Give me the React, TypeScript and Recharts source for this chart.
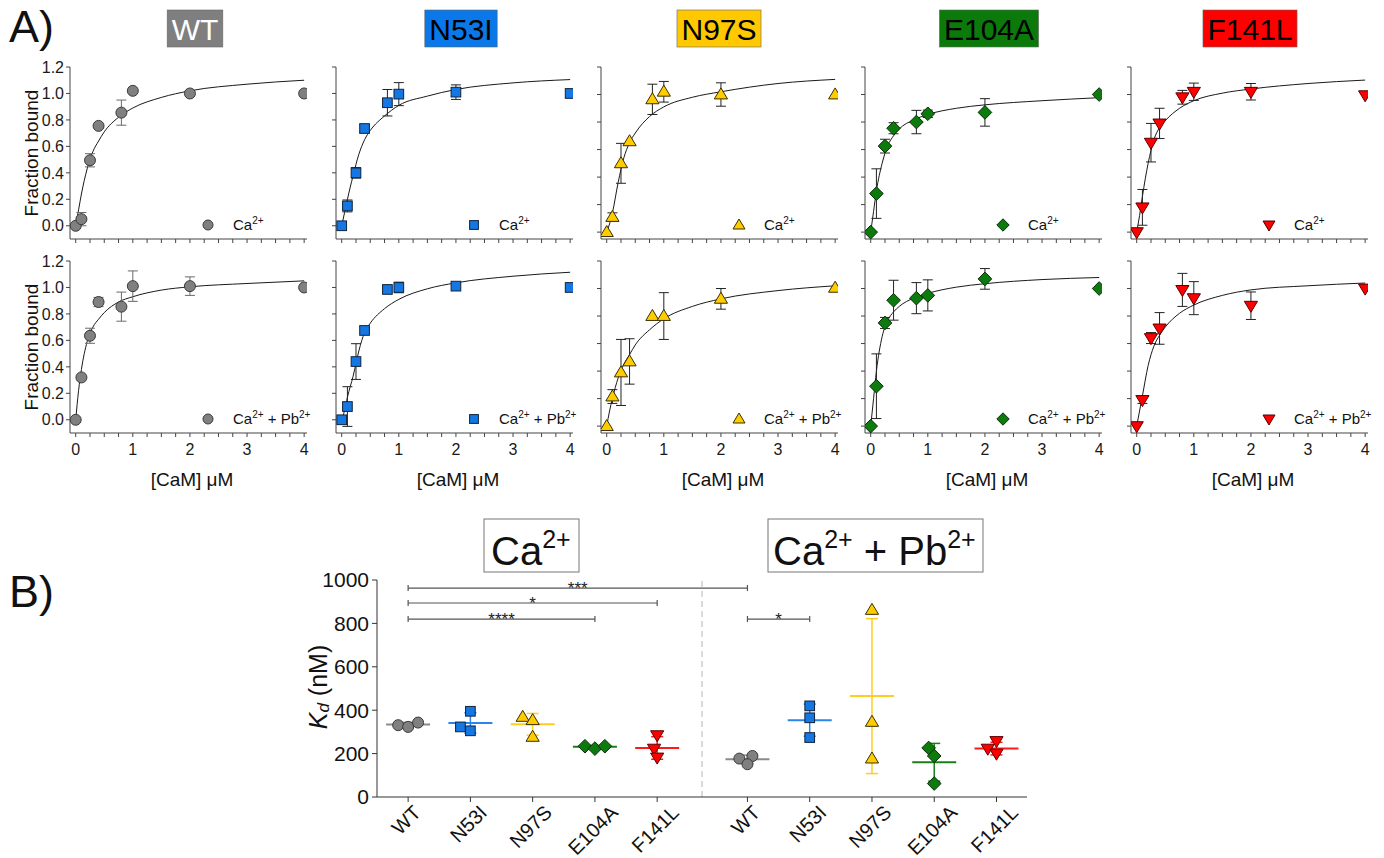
import React from 'react';
import { ComposedChart, Scatter, Line, XAxis, YAxis, ErrorBar, ReferenceLine } from 'recharts';

const FONT = '"Liberation Sans", Arial, Helvetica, sans-serif';

// ---------------- Panel A data ----------------
const concentrations = [0, 0.1, 0.25, 0.4, 0.8, 1, 2, 4];
const fitX = [0, 0.05, 0.1, 0.2, 0.3, 0.4, 0.5, 0.75, 1, 1.5, 2, 3, 4];
const variants = ['WT', 'N53I', 'N97S', 'E104A', 'F141L'];
const xTickValues = [0, 0.25, 0.5, 0.75, 1, 1.25, 1.5, 1.75, 2, 2.25, 2.5, 2.75, 3, 3.25, 3.5, 3.75, 4];
const yTickValues = [0, 0.2, 0.4, 0.6, 0.8, 1.0, 1.2];

// Ca2+ (top row)
const wtCa = [0, 0.05, 0.495, 0.755, 0.855, 1.02, 1.0, 1.0];
const wtCaErr = [0, 0.05, 0.05, 0, 0.095, 0, 0.02, 0];
const wtCaFit = [0, 0.12, 0.24, 0.43, 0.56, 0.64, 0.71, 0.82, 0.89, 0.97, 1.02, 1.07, 1.1];

const n53iCa = [0, 0.15, 0.4, 0.735, 0.93, 0.995, 1.01, 1.0];
const n53iCaErr = [0, 0.045, 0.04, 0.025, 0.1, 0.087, 0.055, 0];
const n53iCaFit = [0, 0.1, 0.2, 0.38, 0.54, 0.65, 0.72, 0.83, 0.91, 0.98, 1.03, 1.08, 1.105];

const n97sCa = [0, 0.11, 0.5, 0.66, 0.965, 1.02, 1.0, 1.0];
const n97sCaErr = [0, 0.03, 0.145, 0, 0.11, 0.075, 0.085, 0];
const n97sCaFit = [0, 0.06, 0.14, 0.36, 0.54, 0.65, 0.72, 0.84, 0.91, 0.98, 1.02, 1.08, 1.11];

const e104aCa = [0, 0.28, 0.625, 0.755, 0.8, 0.86, 0.87, 1.0];
const e104aCaErr = [0, 0.18, 0.05, 0.04, 0.085, 0.027, 0.1, 0];
const e104aCaFit = [0, 0.15, 0.3, 0.5, 0.63, 0.7, 0.75, 0.815, 0.855, 0.9, 0.925, 0.955, 0.977];

const f141lCa = [0, 0.18, 0.65, 0.79, 0.98, 1.02, 1.02, 0.995];
const f141lCaErr = [0, 0.13, 0.14, 0.11, 0.05, 0.063, 0.06, 0];
const f141lCaFit = [0, 0.12, 0.26, 0.5, 0.67, 0.76, 0.81, 0.9, 0.955, 1.01, 1.04, 1.08, 1.105];

// Ca2+ + Pb2+ (bottom row)
const wtCaPb = [0, 0.32, 0.635, 0.89, 0.855, 1.01, 1.01, 1.0];
const wtCaPbErr = [0, 0, 0.057, 0.035, 0.11, 0.115, 0.07, 0];
const wtCaPbFit = [0, 0.22, 0.38, 0.59, 0.7, 0.76, 0.81, 0.89, 0.93, 0.98, 1.005, 1.03, 1.05];

const n53iCaPb = [0, 0.1, 0.44, 0.675, 0.985, 1.0, 1.01, 1.0];
const n53iCaPbErr = [0, 0.15, 0.135, 0, 0, 0.04, 0, 0];
const n53iCaPbFit = [0, 0.07, 0.17, 0.33, 0.52, 0.66, 0.73, 0.84, 0.91, 0.99, 1.035, 1.085, 1.115];

const n97sCaPb = [0, 0.215, 0.39, 0.47, 0.8, 0.8, 0.925, 1.005];
const n97sCaPbErr = [0, 0.05, 0.24, 0.165, 0, 0.17, 0.075, 0];
const n97sCaPbFit = [0, 0.11, 0.2, 0.35, 0.45, 0.52, 0.59, 0.7, 0.78, 0.87, 0.925, 0.985, 1.02];

const e104aCaPb = [0, 0.29, 0.75, 0.915, 0.93, 0.95, 1.07, 1.0];
const e104aCaPbErr = [0, 0.235, 0.04, 0.145, 0.113, 0.113, 0.075, 0];
const e104aCaPbFit = [0, 0.2, 0.4, 0.65, 0.77, 0.83, 0.87, 0.93, 0.965, 1.01, 1.035, 1.065, 1.08];

const f141lCaPb = [0, 0.19, 0.64, 0.71, 0.99, 0.93, 0.875, 1.0];
const f141lCaPbErr = [0, 0.025, 0.04, 0.115, 0.12, 0.12, 0.1, 0];
const f141lCaPbFit = [0, 0.11, 0.22, 0.44, 0.58, 0.66, 0.72, 0.82, 0.88, 0.95, 0.99, 1.02, 1.04];

// ---------------- Panel B data ----------------
const kdCa = [
  [331, 323, 343],
  [323, 395, 305],
  [369, 354, 277],
  [234, 223, 234],
  [285, 223, 182],
];
const kdCaPb = [
  [177, 189, 151],
  [420, 365, 274],
  [862, 346, 177],
  [226, 189, 62],
  [223, 258, 200],
];
const kdCaMean = [334, 341, 335, 231, 226];
const kdCaSd = [10, 47, 50, 6, 52];
const kdCaPbMean = [174, 354, 465, 160, 223];
const kdCaPbSd = [19, 74, 357, 87, 29];
const kdTicks = [0, 200, 400, 600, 800, 1000];
const sigFrom = [0, 0, 0, 5];
const sigTo = [5, 4, 3, 6];
const sigY = [963, 894, 820, 820];
const sigLabels = ['***', '*', '****', '*'];

// ---------------- layout / style (not data) ----------------
const colZero = [76, 342, 607, 871, 1137];
const rowTop = [67, 261];
const rowLegendY = [225, 419];
const plotW = 237;
const plotH = 172;
const titleCenters = [195, 461, 719, 989, 1250];
const swarmCa = [[-0.16, 0, 0.16], [-0.16, 0, 0], [-0.16, 0, 0], [-0.16, 0, 0.16], [0, -0.05, 0]];
const swarmCaPb = [[-0.13, 0.08, 0], [0, 0, 0], [0, 0, 0], [-0.09, 0, 0], [-0.14, 0, 0]];
const pbShift = 5.45;
const dividerX = 4.72;

const styles = [
  { shape: 'circle', fill: '#808080', stroke: '#3a3a3a', bar: '#6a6a6a', title: '#7f7f7f', titleText: '#ffffff', mean: '#8a8a8a' },
  { shape: 'square', fill: '#1577e3', stroke: '#10233d', bar: '#222', title: '#0a78e8', titleText: '#000', mean: '#2a86ee' },
  { shape: 'triangle', fill: '#ffcc00', stroke: '#3a3000', bar: '#222', title: '#ffc800', titleText: '#000', mean: '#ffcc22' },
  { shape: 'diamond', fill: '#0c7a0c', stroke: '#062e06', bar: '#222', title: '#0b7a0b', titleText: '#000', mean: '#1a7f1a' },
  { shape: 'down', fill: '#ff0000', stroke: '#5a0000', bar: '#222', title: '#ff0000', titleText: '#000', mean: '#ff1a1a' },
];

const CW: Record<string, number> = {
  W: 0.944, T: 0.611, N: 0.722, '5': 0.556, '3': 0.556, I: 0.278, '9': 0.556, '7': 0.556,
  S: 0.667, E: 0.667, '1': 0.556, '0': 0.556, '4': 0.556, A: 0.667, F: 0.611, L: 0.556,
};
const textW = (s: string, fs: number) => s.split('').reduce((a, c) => a + (CW[c] ?? 0.6), 0) * fs;

function Marker({ kind, cx, cy, fill, stroke, s = 11 }: any) {
  if (cx == null || cy == null || isNaN(cx) || isNaN(cy)) return null;
  if (kind === 'circle') return <circle cx={cx} cy={cy} r={s / 2} fill={fill} stroke={stroke} strokeWidth={1} />;
  if (kind === 'square') {
    const a = s * 0.88;
    return <rect x={cx - a / 2} y={cy - a / 2} width={a} height={a} fill={fill} stroke={stroke} strokeWidth={1} />;
  }
  if (kind === 'triangle') {
    const p = `${cx},${cy - s * 0.6} ${cx + s * 0.6},${cy + s * 0.4} ${cx - s * 0.6},${cy + s * 0.4}`;
    return <polygon points={p} fill={fill} stroke={stroke} strokeWidth={1} />;
  }
  if (kind === 'down') {
    const p = `${cx - s * 0.6},${cy - s * 0.4} ${cx + s * 0.6},${cy - s * 0.4} ${cx},${cy + s * 0.6}`;
    return <polygon points={p} fill={fill} stroke={stroke} strokeWidth={1} />;
  }
  const r = s * 0.62;
  const p = `${cx},${cy - r} ${cx + r},${cy} ${cx},${cy + r} ${cx - r},${cy}`;
  return <polygon points={p} fill={fill} stroke={stroke} strokeWidth={1} />;
}

const panelRows = [
  [
    { y: wtCa, e: wtCaErr, fit: wtCaFit },
    { y: n53iCa, e: n53iCaErr, fit: n53iCaFit },
    { y: n97sCa, e: n97sCaErr, fit: n97sCaFit },
    { y: e104aCa, e: e104aCaErr, fit: e104aCaFit },
    { y: f141lCa, e: f141lCaErr, fit: f141lCaFit },
  ],
  [
    { y: wtCaPb, e: wtCaPbErr, fit: wtCaPbFit },
    { y: n53iCaPb, e: n53iCaPbErr, fit: n53iCaPbFit },
    { y: n97sCaPb, e: n97sCaPbErr, fit: n97sCaPbFit },
    { y: e104aCaPb, e: e104aCaPbErr, fit: e104aCaPbFit },
    { y: f141lCaPb, e: f141lCaPbErr, fit: f141lCaPbFit },
  ],
];

const tickStyle = { fontSize: 16, fill: '#1a1a1a', fontFamily: FONT };

function BindingPanel({ row, col }: { row: number; col: number }) {
  const d = panelRows[row][col];
  const st = styles[col];
  const pts = concentrations.map((x, i) => ({ x, y: d.y[i], e: d.e[i] }));
  const fit = fitX.map((x, i) => ({ x, y: d.fit[i] }));
  const yMin = col < 2 ? -0.1 : -0.05;
  const xH = row === 0 ? 20 : 40;
  const left = colZero[col] - 5.7 - 60;
  const top = rowTop[row] - 10;
  return (
    <div style={{ position: 'absolute', left, top }}>
      <ComposedChart width={60 + plotW + 15} height={10 + plotH + xH} margin={{ top: 10, right: 15, bottom: 0, left: 0 }}>
        <XAxis
          type="number"
          dataKey="x"
          domain={[-0.1, 4.05]}
          allowDataOverflow
          ticks={xTickValues}
          interval={0}
          tickSize={4}
          tickMargin={7}
          height={xH}
          stroke="#444"
          tick={tickStyle}
          tickFormatter={(v: number) => (row === 1 && Number.isInteger(v) ? String(v) : '')}
        />
        <YAxis
          type="number"
          domain={[yMin, 1.2]}
          allowDataOverflow
          ticks={yTickValues}
          interval={0}
          width={60}
          tickSize={4}
          tickMargin={2}
          stroke="#444"
          tick={tickStyle}
          tickFormatter={(v: number) => (col === 0 ? v.toFixed(1) : '')}
        />
        <Line data={fit} dataKey="y" type="monotone" dot={false} activeDot={false} stroke="#1a1a1a" strokeWidth={1} isAnimationActive={false} />
        <Scatter
          data={pts}
          dataKey="y"
          isAnimationActive={false}
          shape={(p: any) => <Marker kind={st.shape} cx={p.cx} cy={p.cy} fill={st.fill} stroke={st.stroke} />}
        >
          <ErrorBar dataKey="e" direction="y" width={5} stroke={st.bar} strokeWidth={1} />
        </Scatter>
      </ComposedChart>
    </div>
  );
}

const catPositions = [0, 1, 2, 3, 4, pbShift, pbShift + 1, pbShift + 2, pbShift + 3, pbShift + 4];

function CatTick(props: any) {
  const { x, y, payload } = props;
  const idx = catPositions.findIndex((p) => Math.abs(p - payload.value) < 1e-6);
  const label = variants[idx % 5];
  const fs = 20;
  const w = textW(label, fs);
  const h = 14;
  const cx = x - 2;
  const cy = y + (w + h) * 0.3536;
  return (
    <text x={cx} y={cy} textAnchor="middle" dominantBaseline="central" fontSize={fs} fill="#111" fontFamily={FONT} transform={`rotate(-45 ${cx} ${cy})`}>
      {label}
    </text>
  );
}

function KdPanel() {
  const plotL = 377, plotT = 580, bW = 650, bH = 217;
  const ml = 80, mt = 20, mr = 20;
  const H = 858 - (plotT - mt);
  const xH = H - mt - bH;
  const capNm = 14;
  return (
    <div style={{ position: 'absolute', left: plotL - ml, top: plotT - mt }}>
      <ComposedChart width={ml + bW + mr} height={H} margin={{ top: mt, right: mr, bottom: 0, left: 0 }}>
        <XAxis
          type="number"
          dataKey="x"
          domain={[-0.5, 9.94]}
          allowDataOverflow
          ticks={catPositions}
          interval={0}
          tickSize={5}
          tickMargin={2}
          height={xH}
          stroke="#333"
          tick={<CatTick />}
        />
        <YAxis
          type="number"
          domain={[0, 1000]}
          allowDataOverflow
          ticks={kdTicks}
          interval={0}
          width={ml}
          tickSize={5}
          tickMargin={3}
          stroke="#333"
          tick={{ fontSize: 21, fill: '#111', fontFamily: FONT }}
        />
        <ReferenceLine x={dividerX} stroke="#b5b5b5" strokeDasharray="6 4" strokeWidth={1} />
        {sigFrom.map((f, i) => {
          const x1 = catPositions[f];
          const x2 = catPositions[sigTo[i]];
          const yv = sigY[i];
          return (
            <React.Fragment key={'sig' + i}>
              <ReferenceLine
                segment={[{ x: x1, y: yv }, { x: x2, y: yv }]}
                stroke="#555"
                strokeWidth={1.2}
                label={{ value: sigLabels[i], position: 'center', fontSize: 17, fill: '#222', fontFamily: FONT }}
              />
              <ReferenceLine segment={[{ x: x1, y: yv - capNm }, { x: x1, y: yv + capNm }]} stroke="#555" strokeWidth={1.2} />
              <ReferenceLine segment={[{ x: x2, y: yv - capNm }, { x: x2, y: yv + capNm }]} stroke="#555" strokeWidth={1.2} />
            </React.Fragment>
          );
        })}
        {variants.map((v, vi) => {
          const st = styles[vi];
          const data = [
            { x: catPositions[vi], y: kdCaMean[vi], e: kdCaSd[vi] },
            { x: catPositions[vi + 5], y: kdCaPbMean[vi], e: kdCaPbSd[vi] },
          ];
          return (
            <Scatter
              key={'mean' + v}
              data={data}
              dataKey="y"
              isAnimationActive={false}
              shape={(p: any) =>
                p.cx == null ? null : (
                  <line x1={p.cx - 22} x2={p.cx + 22} y1={p.cy} y2={p.cy} stroke={st.mean} strokeWidth={2} />
                )
              }
            >
              <ErrorBar dataKey="e" direction="y" width={6} stroke={st.mean} strokeWidth={1.5} />
            </Scatter>
          );
        })}
        {variants.map((v, vi) => {
          const st = styles[vi];
          const data = [
            ...kdCa[vi].map((y, j) => ({ x: catPositions[vi] + swarmCa[vi][j], y })),
            ...kdCaPb[vi].map((y, j) => ({ x: catPositions[vi + 5] + swarmCaPb[vi][j], y })),
          ];
          return (
            <Scatter
              key={'pts' + v}
              data={data}
              dataKey="y"
              isAnimationActive={false}
              shape={(p: any) => <Marker kind={st.shape} cx={p.cx} cy={p.cy} fill={st.fill} stroke={st.stroke} s={11} />}
            />
          );
        })}
      </ComposedChart>
    </div>
  );
}

function Overlay() {
  const supDy = -6;
  return (
    <svg width={1384} height={858} style={{ position: 'absolute', left: 0, top: 0, pointerEvents: 'none' }} fontFamily={FONT}>
      <text x={9} y={42} fontSize={45} fill="#111">A)</text>
      <text x={9} y={607} fontSize={45} fill="#111">B)</text>
      {variants.map((v, i) => {
        const fs = 30;
        const w = textW(v, fs) + 9;
        const cx = titleCenters[i];
        return (
          <g key={'t' + v}>
            <rect x={cx - w / 2} y={10} width={w} height={37} fill={styles[i].title} stroke="#666" strokeWidth={0.6} />
            <text x={cx} y={39.5} fontSize={fs} textAnchor="middle" fill={styles[i].titleText}>{v}</text>
          </g>
        );
      })}
      {[0, 1].map((r) =>
        variants.map((v, i) => {
          const mx = colZero[i] + 132;
          const my = rowLegendY[r];
          const tx = colZero[i] + 157;
          return (
            <g key={'lg' + r + v}>
              <Marker kind={styles[i].shape} cx={mx} cy={my} fill={styles[i].fill} stroke={styles[i].stroke} s={10} />
              <text x={tx} y={my + 5} fontSize={15} fill="#111">
                <tspan>Ca</tspan>
                <tspan fontSize={10} dy={supDy}>2+</tspan>
                {r === 1 ? (
                  <>
                    <tspan dy={-supDy}> + Pb</tspan>
                    <tspan fontSize={10} dy={supDy}>2+</tspan>
                  </>
                ) : null}
              </text>
            </g>
          );
        })
      )}
      {[0, 1].map((r) => (
        <text
          key={'fb' + r}
          x={31}
          y={rowTop[r] + plotH / 2}
          fontSize={19}
          fill="#111"
          textAnchor="middle"
          dominantBaseline="central"
          transform={`rotate(-90 31 ${rowTop[r] + plotH / 2})`}
        >
          Fraction bound
        </text>
      ))}
      {colZero.map((z, i) => (
        <text key={'xl' + i} x={z + 116} y={479} fontSize={19} fill="#111" textAnchor="middle" dominantBaseline="central">
          [CaM] μM
        </text>
      ))}
      <text x={318} y={687} fontSize={25} fill="#111" textAnchor="middle" dominantBaseline="central" transform="rotate(-90 318 687)">
        <tspan fontStyle="italic">K</tspan>
        <tspan fontStyle="italic" fontSize={17} dy={5}>d</tspan>
        <tspan dy={-5}> (nM)</tspan>
      </text>
      <rect x={484} y={519} width={95} height={53} fill="#fff" stroke="#777" strokeWidth={1} />
      <text x={491} y={565} fontSize={40} fill="#111">
        <tspan>Ca</tspan>
        <tspan fontSize={25} dy={-17}>2+</tspan>
      </text>
      <rect x={768} y={519} width={215} height={53} fill="#fff" stroke="#777" strokeWidth={1} />
      <text x={773} y={565} fontSize={40} fill="#111">
        <tspan>Ca</tspan>
        <tspan fontSize={25} dy={-17}>2+</tspan>
        <tspan dy={17}> + Pb</tspan>
        <tspan fontSize={25} dy={-17}>2+</tspan>
      </text>
    </svg>
  );
}

export default function App() {
  return (
    <div style={{ position: 'absolute', left: 0, top: 0, width: 1384, height: 858, background: '#fff', fontFamily: FONT, overflow: 'hidden' }}>
      <style>{'body{margin:0;overflow:hidden;}'}</style>
      {[0, 1].map((r) => [0, 1, 2, 3, 4].map((c) => <BindingPanel key={r + '-' + c} row={r} col={c} />))}
      <KdPanel />
      <Overlay />
    </div>
  );
}
